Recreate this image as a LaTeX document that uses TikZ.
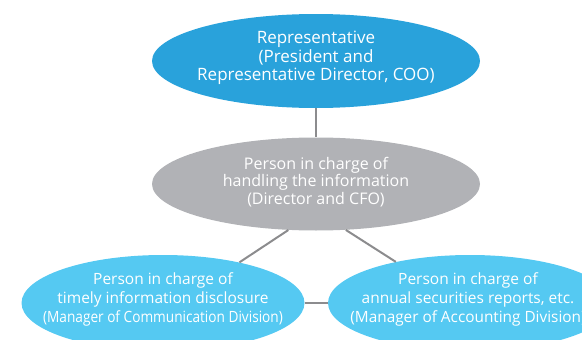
\documentclass[tikz,border=0pt]{standalone}
\usepackage{fontspec}
\usepackage{graphicx}
\setmainfont{Open Sans}
\usetikzlibrary{shapes.geometric}
\definecolor{topblue}{RGB}{41,162,219}
\definecolor{midgray}{RGB}{177,178,182}
\definecolor{lightblue}{RGB}{85,201,242}
\definecolor{linkgray}{RGB}{140,140,142}
\newcommand{\narrowline}[2]{\scalebox{#1}[1]{#2}}
\begin{document}
\begin{tikzpicture}[x=1pt,y=-1pt]
\tikzset{
    role/.style={ellipse,inner sep=0pt},
    roletext/.style={inner sep=0pt,align=center,text=white},
    link/.style={draw=linkgray,line width=2pt}
}
\useasboundingbox (0,0) rectangle (582,340);
\begin{scope}
\clip (0,0) rectangle (582,340);
\node[role,fill=topblue,minimum width=328pt,minimum height=94pt] (rep) at (316,61) {};
\node[roletext,font=\fontsize{17}{18.5}\selectfont] (repText) at (316,58)
    {Representative\\(President and\\Representative Director, COO)};
\node[role,fill=midgray,minimum width=328pt,minimum height=93pt] (cfo) at (316,184) {};
\node[roletext,font=\fontsize{16}{17.5}\selectfont] (cfoText) at (316,182)
    {Person in charge of\\handling the information\\(Director and CFO)};
\node[role,fill=lightblue,minimum width=283pt,minimum height=96pt] (tdi) at (163,303) {};
\node[roletext,font=\fontsize{15.5}{19}\selectfont] (tdiText) at (163,299)
    {Person in charge of\\timely information disclosure\\\narrowline{0.88}{(Manager of Communication Division)}};
\node[role,fill=lightblue,minimum width=284pt,minimum height=96pt] (asr) at (470,303) {};
\node[roletext,font=\fontsize{15.5}{19}\selectfont] (asrText) at (468,299)
    {Person in charge of\\annual securities reports, etc.\\\narrowline{0.99}{(Manager of Accounting Division)}};
\end{scope}
\draw[link] (rep.south) -- (cfo.north);
\draw[link] (cfo.239) -- (tdi.28);
\draw[link] (cfo.303) -- (asr.151);
\draw[link] (tdi.east) -- (asr.west);
\end{tikzpicture}
\end{document}
